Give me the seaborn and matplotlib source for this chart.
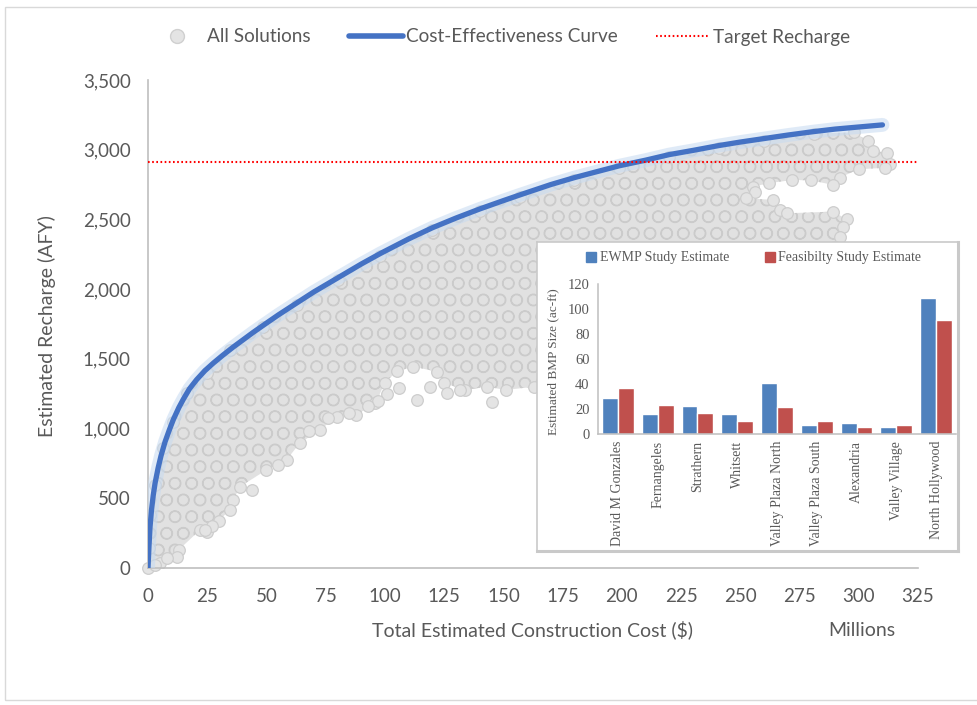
import matplotlib
matplotlib.use("Agg")
import matplotlib.pyplot as plt
import seaborn as sns
import pandas as pd
from matplotlib.lines import Line2D
from matplotlib.patches import Rectangle

# ---------------- data ----------------
# Cost-effectiveness curve (cost in $ millions, recharge in AFY)
curve_cost = [0, 0.4, 0.84, 1.5, 2.2, 3, 4.3, 5.5, 7.2, 9, 10.7, 13, 14.9, 17.5, 20.5,
              24, 27.6, 31.5, 36, 40, 44.4, 48.6, 55, 62.7, 70, 80, 90, 98, 110, 120,
              130, 140, 150, 157, 170, 180, 190, 199, 210, 220, 230, 241, 250, 260,
              270, 281, 290, 300, 310]
curve_recharge = [0, 150, 290, 420, 520, 610, 720, 805, 905, 990, 1065, 1150, 1210,
                  1285, 1350, 1415, 1470, 1525, 1585, 1635, 1690, 1740, 1815, 1900,
                  1980, 2080, 2180, 2255, 2360, 2440, 2510, 2575, 2635, 2676, 2750,
                  2800, 2845, 2885, 2925, 2965, 2995, 3030, 3055, 3080, 3105, 3130,
                  3148, 3163, 3178]

# Outline of the dense cloud of "All Solutions"
cloud_cost = [0, 0.5, 1, 3, 6.5, 10.7, 16.3, 25, 34.6, 48.6, 62.7, 80, 98, 120, 140,
              157, 180, 199, 220, 241, 260, 281, 298, 304, 306, 312, 313,
              311, 300, 292, 289, 280, 272, 262, 255.4, 256, 252.6, 263.8, 266.7,
              269.5, 289.2, 295, 293.4, 292, 290, 240, 200, 175, 163, 151, 143, 134,
              125, 122, 112, 105, 100, 96, 88, 79.6, 72.6, 64, 58.5, 50, 38.8, 36,
              34.6, 24.8, 21.9, 12.9, 12.1, 5, 0]
cloud_recharge = [0, 140, 380, 595, 860, 1050, 1255, 1400, 1560, 1725, 1885, 2065, 2240,
                  2425, 2560, 2660, 2785, 2870, 2950, 3015, 3065, 3115, 3125, 3060, 2990,
                  2980, 2900, 2870, 2860, 2800, 2748, 2780, 2783, 2760, 2735, 2700, 2652,
                  2640, 2568, 2544, 2556, 2500, 2448, 2377, 2300, 1900, 1600, 1350, 1300,
                  1277, 1300, 1277, 1325, 1408, 1444, 1410, 1330, 1180, 1100, 1085, 990,
                  895, 775, 703, 583, 488, 416, 260, 272, 129, 81, 33, 0]

# Scattered individual solutions outside the dense cloud edge
outlier_cost = [0, 113.4, 106, 101, 97, 93, 119, 126, 131.6, 145, 85, 76, 68,
                30, 27, 24, 44, 55, 8, 3]
outlier_recharge = [0, 1205, 1290, 1250, 1200, 1160, 1300, 1253, 1277, 1193, 1110,
                    1075, 980, 340, 300, 275, 560, 740, 70, 25]

target_recharge = 2915

x_ticks = list(range(0, 326, 25))
y_ticks = list(range(0, 3501, 500))

# Inset bar chart
sites = ["David M Gonzales", "Fernangeles", "Strathern", "Whitsett",
         "Valley Plaza North", "Valley Plaza South", "Alexandria",
         "Valley Village", "North Hollywood"]
ewmp_estimate = [28.6, 16.0, 22.4, 16.0, 41.2, 7.2, 9.1, 5.3, 108.8]
feasibility_estimate = [36.6, 23.2, 17.1, 10.2, 21.9, 10.2, 5.9, 7.2, 91.4]
study_names = ["EWMP Study Estimate", "Feasibilty Study Estimate"]

# ---------------- style ----------------
sns.set_theme(style="white")
plt.rcParams["font.family"] = ["Lato", "DejaVu Sans"]
plt.rcParams["hatch.linewidth"] = 0.9
TXT = "#595959"
AX = "#bfbfbf"
W, H = 977, 705

fig = plt.figure(figsize=(W / 100, H / 100), dpi=100)

# chart-area border
fig.patches.append(Rectangle((5 / W, 1 - 700 / H), 1.2, (700 - 7) / H,
                             transform=fig.transFigure, fill=False,
                             edgecolor="#d9d9d9", lw=1.0))

ax = fig.add_axes([148 / W, 1 - 568 / H, 770 / W, 488 / H])
ax.set_facecolor("none")

ax.fill(cloud_cost, cloud_recharge, facecolor="#e1e1e1", edgecolor="#cbcbcb",
        hatch="O", lw=0, zorder=1)
sns.scatterplot(x=cloud_cost, y=cloud_recharge, ax=ax, s=70, color="#e4e4e4",
                edgecolor="#cdcdcd", linewidth=0.9, zorder=2, legend=False)
sns.scatterplot(x=outlier_cost, y=outlier_recharge, ax=ax, s=70, color="#e4e4e4",
                edgecolor="#cdcdcd", linewidth=0.9, zorder=2, legend=False,
                clip_on=False)

sns.lineplot(x=curve_cost, y=curve_recharge, ax=ax, sort=False, color="#c6daf1",
             lw=10, alpha=0.55, zorder=3, solid_capstyle="round")
sns.lineplot(x=curve_cost, y=curve_recharge, ax=ax, sort=False, color="#4472c4",
             lw=3.8, zorder=4, solid_capstyle="round")
ax.axhline(target_recharge, color="#ff0000", lw=1.5, ls=(0, (0.8, 1.2)), zorder=4)

ax.set_xlim(0, 325)
ax.set_ylim(0, 3500)
ax.set_xticks(x_ticks)
ax.set_yticks(y_ticks)
ax.set_yticklabels([f"{v:,}" for v in y_ticks])
for s in ["top", "right"]:
    ax.spines[s].set_visible(False)
for s in ["left", "bottom"]:
    ax.spines[s].set_color(AX)
    ax.spines[s].set_linewidth(1.2)
ax.tick_params(axis="both", direction="inout", length=11, width=1.1, color=AX,
               labelcolor=TXT, labelsize=13.5)
ax.tick_params(axis="y", pad=7)
ax.tick_params(axis="x", pad=9)
ax.set_xlabel("")
ax.set_ylabel("")

fig.text(47 / W, 1 - 326 / H, "Estimated Recharge (AFY)", rotation=90,
         ha="center", va="center", fontsize=14, color=TXT)
fig.text(532 / W, 1 - 630 / H, "Total Estimated Construction Cost ($)",
         ha="center", va="center", fontsize=14, color=TXT)
fig.text(862 / W, 1 - 630 / H, "Millions", ha="center", va="center",
         fontsize=14, color=TXT)

handles = [
    Line2D([], [], marker="o", ls="none", markersize=10, mfc="#e4e4e4", mec="#d0d0d0"),
    Line2D([], [], color="#4472c4", lw=4, solid_capstyle="round"),
    Line2D([], [], color="#ff0000", lw=1.5, ls=(0, (0.8, 1.2))),
]
fig.legend(handles, ["All Solutions", "Cost-Effectiveness Curve", "Target Recharge"],
           loc="center", bbox_to_anchor=(500 / W, 1 - 37 / H), ncol=3,
           frameon=False, fontsize=13.7, handlelength=2.85, handletextpad=0.15,
           columnspacing=2.0, labelcolor=TXT)

# ---------------- inset ----------------
box = fig.add_axes([537 / W, 1 - 551 / H, 421 / W, 309 / H], zorder=5)
box.set_facecolor("white")
box.set_xticks([])
box.set_yticks([])
for s in box.spines.values():
    s.set_color("#c9c9c9")
    s.set_linewidth(1.2)
box.spines["bottom"].set_linewidth(2.2)
box.spines["right"].set_linewidth(2.2)

inset = fig.add_axes([598 / W, 1 - 434 / H, 358 / W, 150 / H], zorder=6)
inset.set_facecolor("none")
df = pd.DataFrame({
    "site": sites * 2,
    "study": [study_names[0]] * len(sites) + [study_names[1]] * len(sites),
    "size": ewmp_estimate + feasibility_estimate,
})
sns.barplot(data=df, x="site", y="size", hue="study", ax=inset,
            palette=["#4f81bd", "#c0504d"], width=0.8, saturation=1,
            legend=False, errorbar=None)
SERIF = ["Liberation Serif", "DejaVu Serif"]
inset.set_xlim(-0.5, len(sites) - 0.5)
inset.set_ylim(0, 120)
inset.set_yticks(range(0, 121, 20))
inset.set_xlabel("")
inset.set_ylabel("")
inset.set_xticks(range(len(sites)))
inset.set_xticklabels(sites, rotation=90, family=SERIF, fontsize=10, color=TXT)
inset.set_xticks([i - 0.5 for i in range(len(sites) + 1)], minor=True)
inset.tick_params(axis="x", which="major", length=0, pad=5)
inset.tick_params(axis="x", which="minor", length=5, width=1, color=AX, direction="out")
inset.tick_params(axis="y", length=4, width=1, color=AX, direction="out", pad=2,
                  labelsize=10.5, labelcolor=TXT)
for lab in inset.get_yticklabels():
    lab.set_family(SERIF)
for s in ["top", "right"]:
    inset.spines[s].set_visible(False)
for s in ["left", "bottom"]:
    inset.spines[s].set_color(AX)
    inset.spines[s].set_linewidth(1.1)

fig.text(553 / W, 1 - 362 / H, "Estimated BMP Size (ac-ft)", rotation=90,
         ha="center", va="center", fontsize=9.5, color=TXT, family=SERIF, zorder=7)

ih = [Line2D([], [], marker="s", ls="none", markersize=7, mfc=c, mec=c)
      for c in ["#4f81bd", "#c0504d"]]
leg = inset.legend(ih, study_names, loc="center",
                   bbox_to_anchor=(754 / W, 1 - 258 / H),
                   bbox_transform=fig.transFigure, ncol=2, frameon=False,
                   handlelength=0.7, handletextpad=0.25, columnspacing=2.6,
                   prop={"family": SERIF, "size": 10}, labelcolor=TXT)

fig.savefig("out.png", dpi=100)
